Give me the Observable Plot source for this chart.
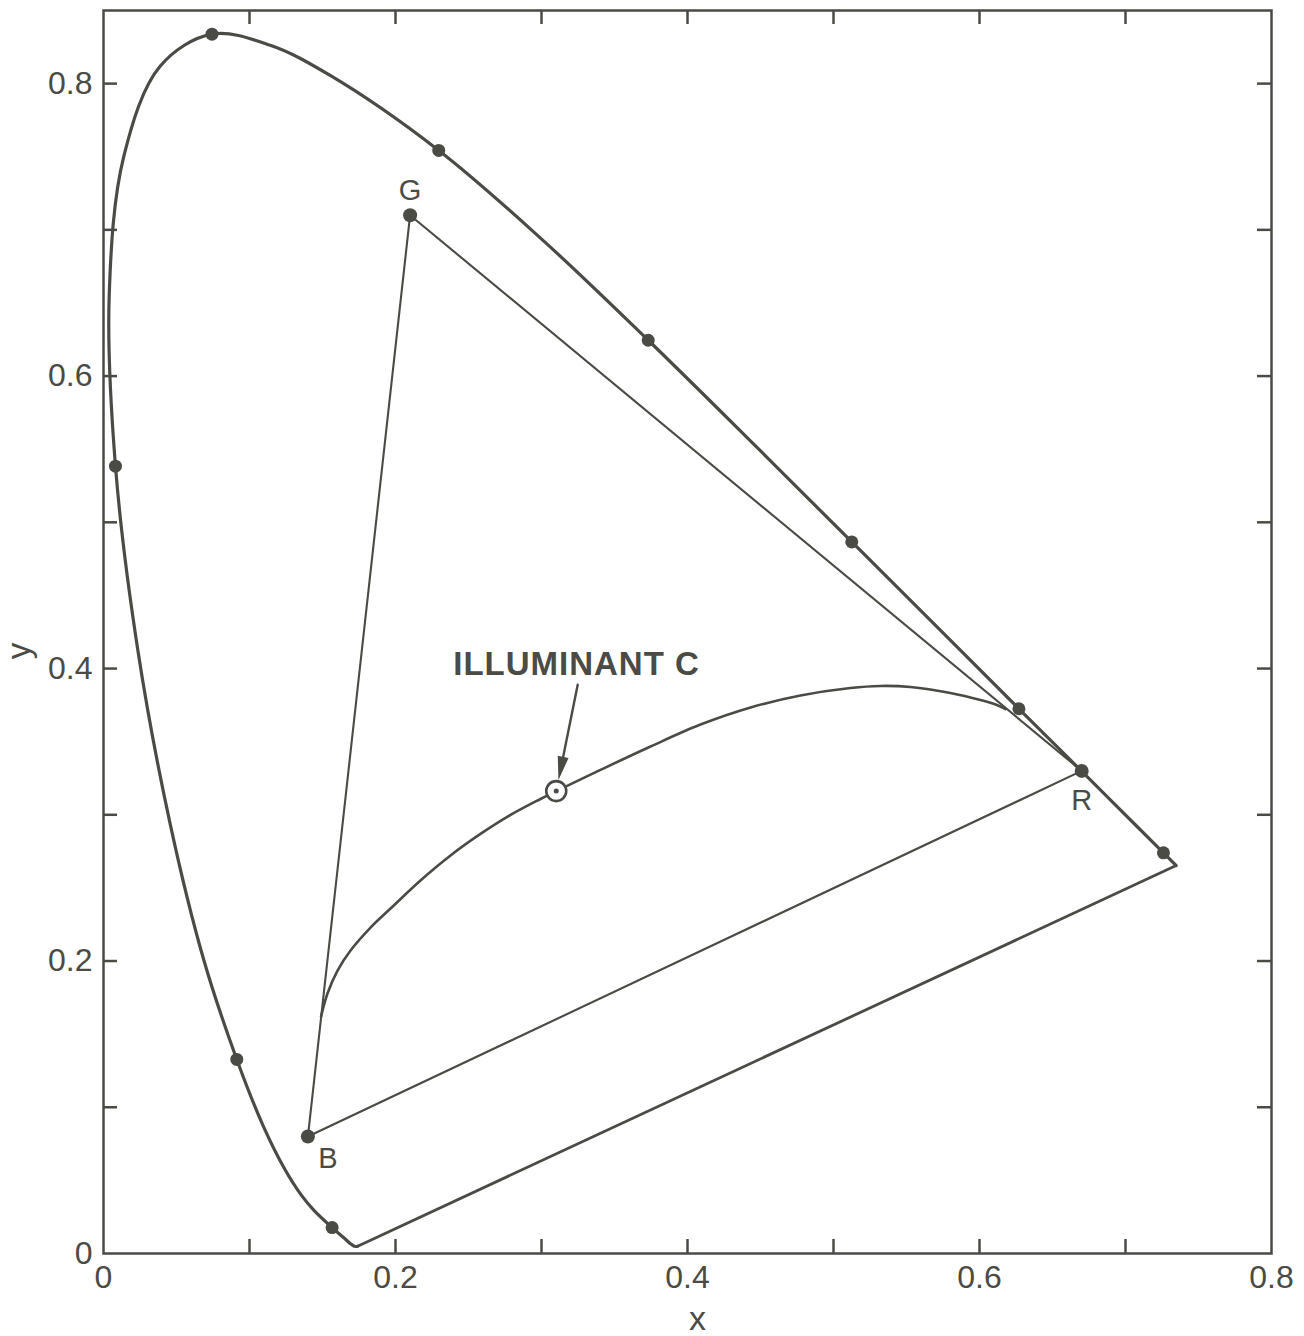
<!DOCTYPE html>
<html>
<head>
<meta charset="utf-8">
<script src="https://cdn.jsdelivr.net/npm/d3@7"></script>
<script src="https://cdn.jsdelivr.net/npm/@observablehq/plot@0.6"></script>
<style>
  html, body { margin: 0; padding: 0; background: #ffffff; }
  #chart svg { display: block; }
</style>
</head>
<body>
<div id="chart"></div>
<script>
// CIE 1931 spectral locus: wavelength (nm) and chromaticity coordinates
const locusNm = [380, 400, 410, 420, 430, 440, 450, 460, 465, 470, 475, 480, 485, 490, 495, 500, 505, 510, 515, 520, 525, 530, 540, 550, 560, 570, 580, 590, 600, 610, 620, 630, 640, 650, 660, 680, 700];
const locusX = [0.1741, 0.1733, 0.1726, 0.1714, 0.1689, 0.1644, 0.1566, 0.1440, 0.1355, 0.1241, 0.1096, 0.0913, 0.0687, 0.0454, 0.0235, 0.0082, 0.0039, 0.0139, 0.0389, 0.0743, 0.1142, 0.1547, 0.2296, 0.3016, 0.3731, 0.4441, 0.5125, 0.5752, 0.6270, 0.6658, 0.6915, 0.7079, 0.7190, 0.7260, 0.7300, 0.7334, 0.7347];
const locusY = [0.0050, 0.0048, 0.0048, 0.0051, 0.0069, 0.0109, 0.0177, 0.0297, 0.0399, 0.0578, 0.0868, 0.1327, 0.2007, 0.2950, 0.4127, 0.5384, 0.6548, 0.7502, 0.8120, 0.8338, 0.8262, 0.8059, 0.7543, 0.6923, 0.6245, 0.5547, 0.4866, 0.4242, 0.3725, 0.3340, 0.3083, 0.2920, 0.2809, 0.2740, 0.2700, 0.2666, 0.2653];

// Wavelengths marked with a dot on the locus
const markedNm = [450, 480, 500, 520, 540, 560, 580, 600, 650];

// NTSC primaries
const primaryNames = ["R", "G", "B"];
const primaryX = [0.67, 0.21, 0.14];
const primaryY = [0.33, 0.71, 0.08];

// Illuminant C
const illuminantX = 0.3101;
const illuminantY = 0.3162;

// Curve through illuminant C, from the blue-green side to the red corner
const curveX = [0.149, 0.1534, 0.1603, 0.1692, 0.1829, 0.1966, 0.2171, 0.2377, 0.2582, 0.2788, 0.2993, 0.3101, 0.3404, 0.3747, 0.4089, 0.4432, 0.4774, 0.5116, 0.5322, 0.5527, 0.5801, 0.6007, 0.611, 0.6178];
const curveY = [0.162, 0.1778, 0.1935, 0.2072, 0.2229, 0.2359, 0.2551, 0.2722, 0.2869, 0.2999, 0.3108, 0.3162, 0.3307, 0.3467, 0.3617, 0.3734, 0.3816, 0.3867, 0.3881, 0.3874, 0.3833, 0.3785, 0.3754, 0.3723];

// Axis ticks
const xTickValues = [0, 0.2, 0.4, 0.6, 0.8];
const xTickLabels = ["0", "0.2", "0.4", "0.6", "0.8"];
const yTickValues = [0, 0.2, 0.4, 0.6, 0.8];
const yTickLabels = ["0", "0.2", "0.4", "0.6", "0.8"];
const xMinorTicks = [0.1, 0.2, 0.3, 0.4, 0.5, 0.6, 0.7];
const yMinorTicks = [0.1, 0.2, 0.3, 0.4, 0.5, 0.6, 0.7, 0.8];

// --- derived tables ---
const locus = locusNm.map((nm, i) => ({nm, x: locusX[i], y: locusY[i]}));
const marked = locus.filter(d => markedNm.includes(d.nm));
const purpleLine = [{x1: locusX[0], y1: locusY[0], x2: locusX[locusX.length - 1], y2: locusY[locusY.length - 1]}];
const primaries = primaryNames.map((name, i) => ({name, x: primaryX[i], y: primaryY[i]}));
const triangle = [...primaries, primaries[0]];
const curve = curveX.map((x, i) => ({x, y: curveY[i]}));
const illuminant = [{x: illuminantX, y: illuminantY}];
const annotation = {label: "ILLUMINANT C", x: 0.324, y: 0.4025, arrowX: 0.3248, arrowY: 0.389};

const ink = "#4b4b46";
const W = 1304, H = 1336;
const mL = 103, mR = 33, mT = 10, mB = 83;
const xDomain = [0, 0.8], yDomain = [0, 0.85];
const plotW = W - mL - mR, plotH = H - mT - mB;
const tickLen = 14;
const font = "'Liberation Sans', Arial, Helvetica, sans-serif";

// Direction of the annotation arrow in screen space (clockwise radians from up)
const pxPerX = plotW / (xDomain[1] - xDomain[0]);
const pxPerY = plotH / (yDomain[1] - yDomain[0]);
const arrowAngle = Math.atan2(
  (annotation.arrowX - illuminantX) * pxPerX,
  (annotation.arrowY - illuminantY) * pxPerY
);
// Filled, narrow arrowhead whose tip touches the illuminant ring
const ringR = 10;
const headLen = 24;
const arrowHead = {
  draw(context) {
    const s = Math.sin(arrowAngle), c = Math.cos(arrowAngle);
    const pt = (u, v) => [u * c - v * s, u * s + v * c]; // rotate local (u, v)
    const tip = pt(0, -(ringR + 1));
    const b1 = pt(-5.5, -(ringR + 1 + headLen));
    const b2 = pt(5.5, -(ringR + 1 + headLen));
    context.moveTo(tip[0], tip[1]);
    context.lineTo(b1[0], b1[1]);
    context.lineTo(b2[0], b2[1]);
    context.closePath();
  }
};

const chart = Plot.plot({
  width: W,
  height: H,
  marginLeft: mL,
  marginRight: mR,
  marginTop: mT,
  marginBottom: mB,
  x: {domain: xDomain},
  y: {domain: yDomain},
  style: {color: ink, background: "#ffffff", fontFamily: font},
  marks: [
    Plot.frame({stroke: ink, strokeWidth: 2.5}),
    // inward ticks on all four sides
    Plot.ruleX(xMinorTicks, {stroke: ink, strokeWidth: 2.5, insetTop: plotH - tickLen}),
    Plot.ruleX(xMinorTicks, {stroke: ink, strokeWidth: 2.5, insetBottom: plotH - tickLen}),
    Plot.ruleY(yMinorTicks, {stroke: ink, strokeWidth: 2.5, insetRight: plotW - tickLen}),
    Plot.ruleY(yMinorTicks, {stroke: ink, strokeWidth: 2.5, insetLeft: plotW - tickLen}),
    Plot.axisX(xTickValues, {
      anchor: "bottom", tickSize: 0, tickPadding: 12, fontSize: 32, label: null,
      tickFormat: d => xTickLabels[xTickValues.indexOf(d)]
    }),
    Plot.axisY(yTickValues, {
      anchor: "left", tickSize: 0, tickPadding: 11, fontSize: 32, label: null,
      tickFormat: d => yTickLabels[yTickValues.indexOf(d)]
    }),
    Plot.text(["x"], {frameAnchor: "bottom", lineAnchor: "middle", textAnchor: "middle", dx: 10, dy: 66, fontSize: 34, fill: ink}),
    Plot.text(["y"], {frameAnchor: "left", lineAnchor: "middle", textAnchor: "middle", rotate: -90, dx: -84, dy: 19, fontSize: 33, fill: ink}),

    // spectral locus and purple line
    Plot.line(locus, {x: "x", y: "y", curve: "catmull-rom", stroke: ink, strokeWidth: 3.2}),
    Plot.link(purpleLine, {x1: "x1", y1: "y1", x2: "x2", y2: "y2", stroke: ink, strokeWidth: 2.8}),
    Plot.dot(marked, {x: "x", y: "y", r: 6.5, fill: ink}),

    // curve through illuminant C
    Plot.line(curve, {x: "x", y: "y", curve: "catmull-rom", stroke: ink, strokeWidth: 2.6}),

    // primaries triangle
    Plot.line(triangle, {x: "x", y: "y", stroke: ink, strokeWidth: 2.1}),
    Plot.dot(primaries, {x: "x", y: "y", r: 7, fill: ink}),
    Plot.text(primaries.filter(d => d.name === "G"), {x: "x", y: "y", text: "name", dy: -25, fontSize: 29, fill: ink}),
    Plot.text(primaries.filter(d => d.name === "R"), {x: "x", y: "y", text: "name", dy: 30, fontSize: 29, fill: ink}),
    Plot.text(primaries.filter(d => d.name === "B"), {x: "x", y: "y", text: "name", dx: 20, dy: 22, fontSize: 29, fill: ink}),

    // illuminant C marker, arrow and label
    Plot.dot(illuminant, {x: "x", y: "y", r: ringR, fill: "#ffffff", stroke: ink, strokeWidth: 2.6}),
    Plot.dot(illuminant, {x: "x", y: "y", r: 2.5, fill: ink}),
    Plot.arrow([annotation], {
      x1: "arrowX", y1: "arrowY", x2: () => illuminantX, y2: () => illuminantY,
      insetEnd: ringR + headLen - 2, headLength: 0, stroke: ink, strokeWidth: 2.4
    }),
    Plot.dot(illuminant, {x: "x", y: "y", symbol: arrowHead, r: 1, fill: ink, stroke: "none"}),
    Plot.text([annotation], {x: "x", y: "y", text: "label", fontSize: 33, fontWeight: "bold", fill: ink})
  ]
});

// open up the annotation lettering slightly
d3.select(chart).selectAll("text")
  .filter(function() { return this.textContent === annotation.label; })
  .attr("letter-spacing", "1px");
document.getElementById("chart").appendChild(chart);
</script>
</body>
</html>
